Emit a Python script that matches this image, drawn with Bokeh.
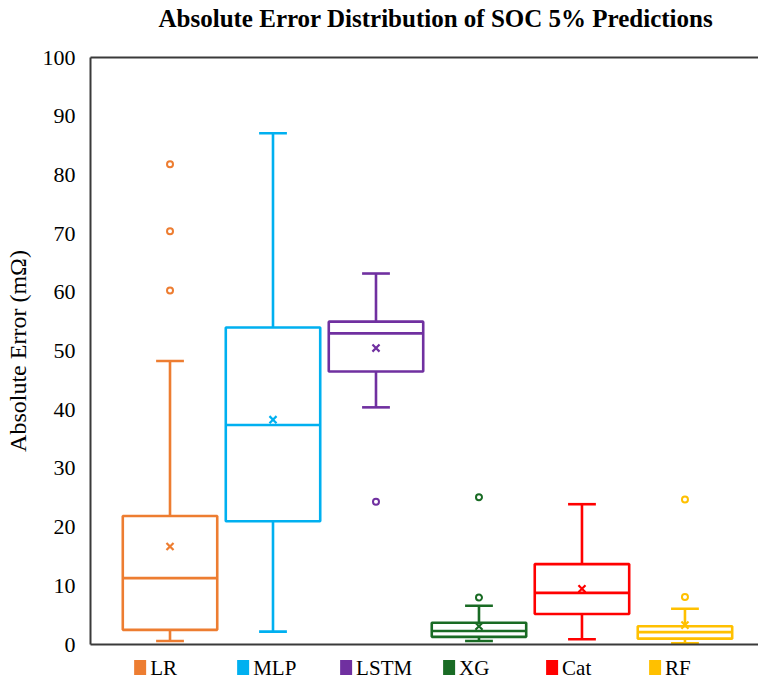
from bokeh.plotting import figure
from bokeh.models import (Range1d, FixedTicker, LinearAxis, ColumnDataSource)
from bokeh.layouts import column
from bokeh.transform import dodge
from bokeh.core.properties import value
from bokeh.embed import file_html
from bokeh.resources import INLINE

# ---- data ----
cats = ["LR", "MLP", "LSTM", "XG", "Cat", "RF"]
colors = ["#ED7D31", "#00B0F0", "#7030A0", "#196B24", "#FF0000", "#FFC000"]
lower = [0.6, 2.2, 40.4, 0.6, 0.9, 0.2]
q1 = [2.5, 21.0, 46.5, 1.3, 5.2, 1.0]
median = [11.3, 37.4, 53.0, 2.3, 8.8, 2.1]
q3 = [21.9, 54.0, 55.0, 3.7, 13.7, 3.1]
upper = [48.3, 87.1, 63.2, 6.6, 23.9, 6.1]
mean = [16.7, 38.3, 50.5, 3.1, 9.5, 3.3]
outlier_cat = ["LR", "LR", "LR", "LSTM", "XG", "XG", "RF", "RF"]
outlier_val = [81.8, 70.4, 60.3, 24.3, 25.1, 8.0, 24.7, 8.1]
y_ticks = [0, 10, 20, 30, 40, 50, 60, 70, 80, 90, 100]
title_text = "Absolute Error Distribution of SOC 5% Predictions"

FONT = "Liberation Serif"
BOX_W = 0.917
CAP_W = 0.27
W = 758
LEFT = 90
TITLE_H = 44
MAIN_H = 613
LEG_H = 20

xs = [i + 1 for i in range(len(cats))]
pos = {c: i + 1 for i, c in enumerate(cats)}
xr = Range1d(0.228, 6.714)


def strip(height, x_range, y_range):
    f = figure(width=W, height=height, output_backend="svg", toolbar_location=None,
               x_range=x_range, y_range=y_range, x_axis_location=None,
               y_axis_location=None, min_border_left=LEFT, min_border_right=0,
               min_border_top=0, min_border_bottom=0, outline_line_color=None,
               background_fill_color="white", border_fill_color="white")
    f.grid.visible = False
    return f


# ---- title strip (x in page pixels: its frame spans LEFT..W) ----
tf = strip(TITLE_H, Range1d(LEFT, W), Range1d(0, TITLE_H))
tf.text(x=[158], y=[TITLE_H - 18], text=[title_text], text_font=value(FONT),
        text_font_size="25px", text_font_style="bold", text_color="black",
        text_baseline="middle", text_align="left")

# ---- main chart ----
p = figure(width=W, height=MAIN_H, output_backend="svg", toolbar_location=None,
           x_range=xr, y_range=Range1d(0, 100),
           min_border_left=LEFT, min_border_right=0, min_border_top=13,
           min_border_bottom=13, background_fill_color="white",
           border_fill_color="white", outline_line_color=None)
p.grid.visible = False

# y axis
p.yaxis.ticker = FixedTicker(ticks=y_ticks)
p.yaxis.axis_label = "Absolute Error (mΩ)"
p.yaxis.axis_label_text_font = FONT
p.yaxis.axis_label_text_font_size = "24px"
p.yaxis.axis_label_text_font_style = "normal"
p.yaxis.axis_label_text_color = "black"
p.yaxis.axis_label_standoff = 9
p.yaxis.major_label_text_font = FONT
p.yaxis.major_label_text_font_size = "22px"
p.yaxis.major_label_text_color = "black"
p.yaxis.major_tick_line_color = None
p.yaxis.minor_tick_line_color = None
p.yaxis.major_label_standoff = 9
p.yaxis.axis_line_color = "#3a3a3a"
p.yaxis.axis_line_width = 2

# x axis (line only)
p.xaxis.ticker = FixedTicker(ticks=[])
p.xaxis.major_tick_line_color = None
p.xaxis.minor_tick_line_color = None
p.xaxis.major_label_standoff = 0
p.xaxis.axis_line_color = "#3a3a3a"
p.xaxis.axis_line_width = 2

# top border as an unlabeled axis
top = LinearAxis(ticker=FixedTicker(ticks=[]), major_tick_line_color=None,
                 minor_tick_line_color=None, major_label_standoff=0,
                 axis_line_color="#3a3a3a", axis_line_width=2)
p.add_layout(top, "above")

src = ColumnDataSource(dict(x=xs, lower=lower, q1=q1, median=median, q3=q3,
                            upper=upper, mean=mean, color=colors, cat=cats))

LW = 2.6
# whiskers
p.segment(x0="x", y0="q3", x1="x", y1="upper", source=src, line_color="color", line_width=LW)
p.segment(x0="x", y0="lower", x1="x", y1="q1", source=src, line_color="color", line_width=LW)
# caps
for yk in ("upper", "lower"):
    p.segment(x0=dodge("x", -CAP_W / 2), x1=dodge("x", CAP_W / 2), y0=yk, y1=yk,
              source=src, line_color="color", line_width=LW)
# boxes
p.vbar(x="x", width=BOX_W, bottom="q1", top="q3", source=src, fill_color=None,
       line_color="color", line_width=LW)
# median
p.segment(x0=dodge("x", -BOX_W / 2), x1=dodge("x", BOX_W / 2), y0="median", y1="median",
          source=src, line_color="color", line_width=LW)
# mean
p.scatter(x="x", y="mean", source=src, marker="x", size=10, line_color="color",
          line_width=2.2)
# outliers
ocol = [colors[cats.index(c)] for c in outlier_cat]
p.scatter(x=[pos[c] for c in outlier_cat], y=outlier_val, marker="circle", size=6,
          fill_color="white", line_color=ocol, line_width=2)

# ---- legend strip (shares the x scale of the chart) ----
lg = strip(LEG_H, xr, Range1d(0, 1))
lsrc = ColumnDataSource(dict(x=xs, y=[0.5] * len(xs), color=colors, cat=cats))
lg.rect(x=dodge("x", -0.29), y="y", width=12, height=15, width_units="screen",
        height_units="screen", source=lsrc, fill_color="color", line_color=None)
lg.text(x=dodge("x", -0.29), y="y", text="cat", source=lsrc, x_offset=10,
        text_font=value(FONT), text_font_size="21px", text_color="black",
        text_baseline="middle", text_align="left")

layout = column(tf, p, lg, spacing=0)
open("out.html", "w").write(file_html(layout, INLINE))
